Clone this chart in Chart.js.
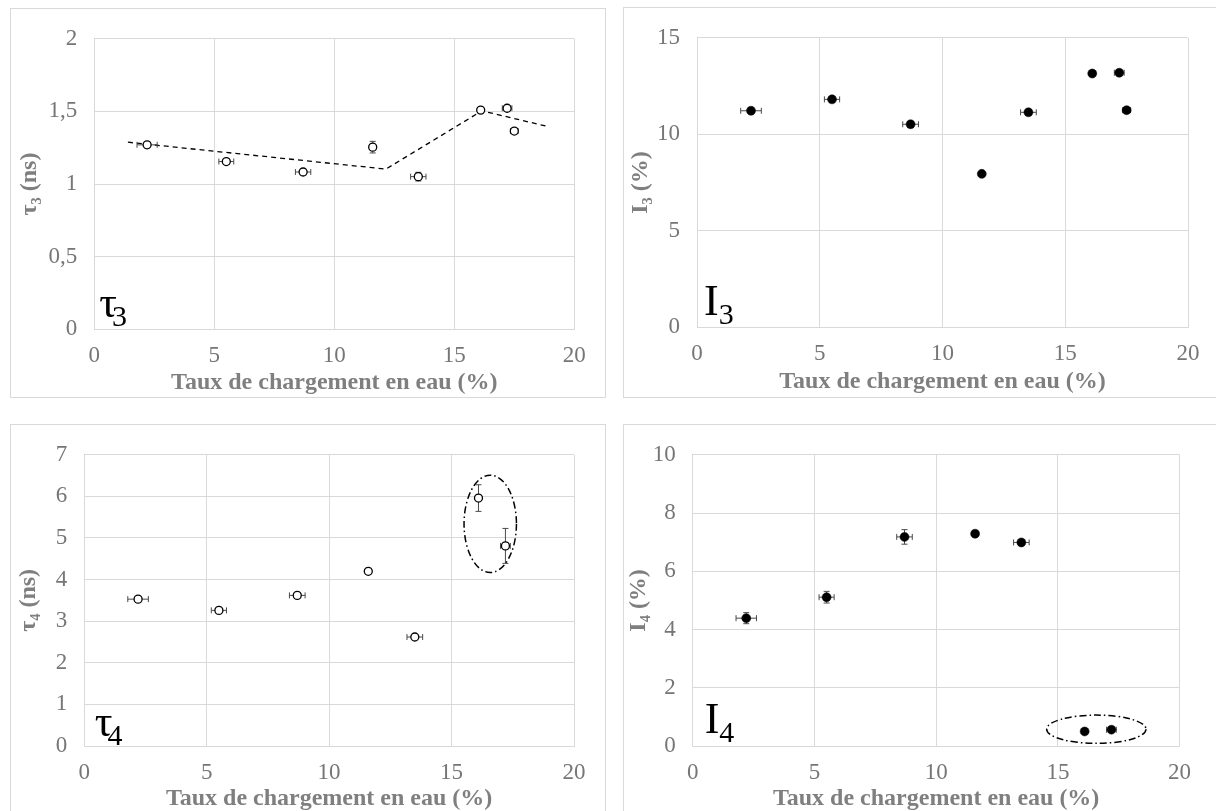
<!DOCTYPE html>
<html><head><meta charset="utf-8">
<script src="https://cdn.jsdelivr.net/npm/chart.js@4.4.1/dist/chart.umd.min.js"></script>
<style>
html,body{margin:0;padding:0;background:#fff;width:1216px;height:811px;overflow:hidden;position:relative}
.frame{position:absolute;border:1.5px solid #d9d9d9;box-sizing:border-box}
canvas{position:absolute}
</style></head><body>
<div class="frame" style="left:9.5px;top:7.5px;width:596px;height:390.5px"></div>
<div class="frame" style="left:622.5px;top:6.5px;width:700px;height:391.5px"></div>
<div class="frame" style="left:9.5px;top:423.5px;width:596px;height:500px"></div>
<div class="frame" style="left:622.5px;top:423.5px;width:700px;height:500px"></div>
<canvas id="c1" width="595" height="390" style="left:10px;top:8px"></canvas>
<canvas id="c2" width="593" height="390" style="left:623px;top:7px"></canvas>
<canvas id="c3" width="595" height="390" style="left:10px;top:424px"></canvas>
<canvas id="c4" width="593" height="390" style="left:623px;top:424px"></canvas>
<script>
// ---- data ----
const xVals   = [2.2, 5.5, 8.7, 11.6, 13.5, 16.1, 17.2, 17.5];
const xErr    = [0.42, 0.31, 0.32, 0, 0.32, 0, 0.2, 0.16];
const tau3    = [1.27, 1.155, 1.083, 1.254, 1.051, 1.509, 1.522, 1.365];
const tau3Err = [0.02, 0.02, 0.02, 0.04, 0.03, 0, 0.01, 0.01];
const trendX  = [1.4, 12.15, 16.15, 18.8];
const trendY  = [1.288, 1.103, 1.504, 1.40];
const i3      = [11.22, 11.81, 10.52, 7.95, 11.14, 13.15, 13.19, 11.25];
const i3Err   = [0.15, 0.15, 0.15, 0.1, 0.1, 0, 0.1, 0.1];
const x4      = [2.2, 5.5, 8.7, 11.6, 13.5, 16.1, 17.2];
const x4Err   = [0.42, 0.31, 0.32, 0, 0.32, 0, 0.2];
const tau4    = [3.53, 3.26, 3.62, 4.2, 2.62, 5.96, 4.81];
const tau4Err = [0.03, 0.03, 0.03, 0.02, 0.03, 0.32, 0.42];
const i4      = [4.39, 5.11, 7.18, 7.29, 6.99, 0.50, 0.56];
const i4Err   = [0.19, 0.2, 0.25, 0.1, 0.08, 0, 0];
const xTicks     = ['0', '5', '10', '15', '20'];
const yTicksTau3 = ['0', '0,5', '1', '1,5', '2'];
const yTicksI3   = ['0', '5', '10', '15'];
const yTicksTau4 = ['0', '1', '2', '3', '4', '5', '6', '7'];
const yTicksI4   = ['0', '2', '4', '6', '8', '10'];
const ellipseTau4 = {cx: 16.58, cy: 5.34, rx: 1.07, ry: 1.17};
const ellipseI4   = {cx: 16.58, cy: 0.576, rx: 2.04, ry: 0.485};
const xTitle = 'Taux de chargement en eau (%)';

// ---- plugins ----
const errorBars = {
  id: 'errorBars',
  beforeDatasetDraw(chart, args) {
    const ds = chart.data.datasets[args.index];
    if (!ds.errX && !ds.errY) return;
    const xs = chart.scales.x, ys = chart.scales.y, ctx = chart.ctx;
    ctx.save();
    ctx.strokeStyle = '#4a4a4a'; ctx.lineWidth = 1;
    ds.data.forEach((p, i) => {
      const px = xs.getPixelForValue(p.x), py = ys.getPixelForValue(p.y);
      const ex = ds.errX ? ds.errX[i] : 0, ey = ds.errY ? ds.errY[i] : 0;
      ctx.beginPath();
      if (ex > 0) {
        const a = xs.getPixelForValue(p.x - ex), b = xs.getPixelForValue(p.x + ex);
        ctx.moveTo(a, py); ctx.lineTo(b, py);
        ctx.moveTo(a, py - 3); ctx.lineTo(a, py + 3);
        ctx.moveTo(b, py - 3); ctx.lineTo(b, py + 3);
      }
      if (ey > 0) {
        const a = ys.getPixelForValue(p.y - ey), b = ys.getPixelForValue(p.y + ey);
        ctx.moveTo(px, a); ctx.lineTo(px, b);
        ctx.moveTo(px - 3, a); ctx.lineTo(px + 3, a);
        ctx.moveTo(px - 3, b); ctx.lineTo(px + 3, b);
      }
      ctx.stroke();
    });
    ctx.restore();
  }
};
const panelLabel = {
  id: 'panelLabel',
  afterDatasetsDraw(chart, args, opts) {
    if (!opts || !opts.main) return;
    const ctx = chart.ctx, a = chart.chartArea;
    ctx.save();
    ctx.fillStyle = '#000';
    ctx.textBaseline = 'alphabetic';
    ctx.font = '44px "Liberation Serif", "Times New Roman", serif';
    const x = a.left + opts.dx;
    ctx.fillText(opts.main, x, a.bottom - opts.dy);
    const w = ctx.measureText(opts.main).width;
    ctx.font = '30px "Liberation Serif", "Times New Roman", serif';
    ctx.fillText(opts.sub, x + w + opts.kern, a.bottom - opts.dy + 9);
    ctx.restore();
  }
};
const ellipseMark = {
  id: 'ellipseMark',
  afterDatasetsDraw(chart, args, opts) {
    if (!opts || opts.cx === undefined) return;
    const xs = chart.scales.x, ys = chart.scales.y, ctx = chart.ctx;
    const cx = xs.getPixelForValue(opts.cx), cy = ys.getPixelForValue(opts.cy);
    const rx = Math.abs(xs.getPixelForValue(opts.cx + opts.rx) - cx);
    const ry = Math.abs(ys.getPixelForValue(opts.cy + opts.ry) - cy);
    ctx.save();
    ctx.strokeStyle = '#000'; ctx.lineWidth = 1.5;
    ctx.setLineDash([7, 3, 1.5, 3]);
    ctx.beginPath(); ctx.ellipse(cx, cy, rx, ry, 0, 0, Math.PI * 2); ctx.stroke();
    ctx.restore();
  }
};

const tickFont = {family: '"Liberation Serif", "Times New Roman", serif', size: 23};
const titleFont = {family: '"Liberation Serif", "Times New Roman", serif', size: 24, weight: 'bold', lineHeight: 1};
const gridCol = '#d9d9d9';

function pts(xs, ys) { return xs.map((x, i) => ({x: x, y: ys[i]})); }

function makeChart(id, geo, yMax, yStep, yLabels, yTitle, datasets, label, ellipse) {
  const cv = document.getElementById(id);
  const W = cv.width, H = cv.height;
  new Chart(cv, {
    type: 'scatter',
    data: {datasets: datasets},
    options: {
      responsive: false, animation: false, devicePixelRatio: 1,
      layout: {padding: {left: 0, top: geo.T, right: W - geo.R, bottom: 0}},
      plugins: {legend: {display: false}, tooltip: {enabled: false},
                panelLabel: label, ellipseMark: ellipse || {}},
      scales: {
        x: {
          type: 'linear', min: 0, max: 20,
          ticks: {stepSize: 5, font: tickFont, color: '#767676', padding: 13,
                  callback: (v, i) => xTicks[i]},
          grid: {color: gridCol, drawTicks: false, lineWidth: 1},
          border: {color: gridCol},
          title: {display: true, text: xTitle, font: titleFont, color: '#7f7f7f',
                  padding: {top: 0, bottom: 3}},
          afterFit: s => { s.height = H - geo.B; }
        },
        y: {
          type: 'linear', min: 0, max: yMax,
          ticks: {stepSize: yStep, font: tickFont, color: '#767676', padding: 17,
                  callback: (v, i) => yLabels[i]},
          grid: {color: gridCol, drawTicks: false, lineWidth: 1},
          border: {color: gridCol},
          title: {display: true, text: yTitle, font: titleFont, color: '#7f7f7f',
                  padding: {top: geo.yt, bottom: 0}},
          afterFit: s => { s.width = geo.L; }
        }
      }
    },
    plugins: [errorBars, panelLabel, ellipseMark]
  });
}

const openPt = {pointStyle: 'circle', pointRadius: 4, pointBorderWidth: 1.3,
                pointBorderColor: '#000', pointBackgroundColor: '#fff', showLine: false};
const fullPt = {pointStyle: 'circle', pointRadius: 4.5, pointBorderWidth: 0.5,
                pointBorderColor: '#000', pointBackgroundColor: '#000', showLine: false};

makeChart('c1', {L: 84.3, T: 25, R: 564.3, B: 321.3, yt: 8.2}, 2, 0.5, yTicksTau3, 'τ₃ (ns)', [
  Object.assign({data: pts(xVals, tau3), errX: xErr, errY: tau3Err}, openPt),
  {data: pts(trendX, trendY), showLine: true, pointRadius: 0, borderColor: '#000',
   borderWidth: 1.3, borderDash: [5, 4], fill: false}
], {main: 'τ', sub: '3', dx: 5, dy: 12, kern: -5});

makeChart('c2', {L: 74, T: 22.3, R: 565, B: 320.3, yt: 5.7}, 15, 5, yTicksI3, 'I₃ (%)', [
  Object.assign({data: pts(xVals, i3), errX: xErr, errY: i3Err}, fullPt)
], {main: 'I', sub: '3', dx: 7, dy: 12, kern: 0});

makeChart('c3', {L: 74.2, T: 25.3, R: 564, B: 322, yt: 6.3}, 7, 1, yTicksTau4, 'τ₄ (ns)', [
  Object.assign({data: pts(x4, tau4), errX: x4Err, errY: tau4Err}, openPt)
], {main: 'τ', sub: '4', dx: 10.5, dy: 10, kern: -5}, ellipseTau4);

makeChart('c4', {L: 69.7, T: 23.3, R: 556.6, B: 322, yt: 3.7}, 10, 2, yTicksI4, 'I₄ (%)', [
  Object.assign({data: pts(x4, i4), errX: x4Err, errY: i4Err}, fullPt)
], {main: 'I', sub: '4', dx: 12, dy: 13, kern: 0}, ellipseI4);
</script>
</body></html>
